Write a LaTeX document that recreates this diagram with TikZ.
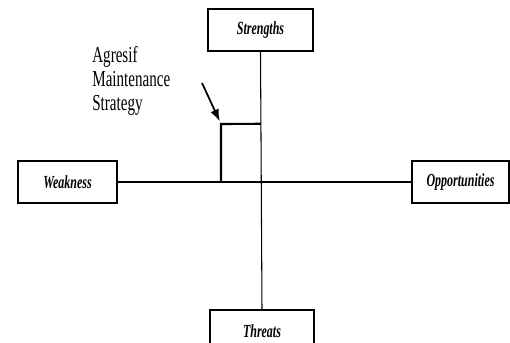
\documentclass[tikz,border=0pt]{standalone}
\usepackage{fontspec}
\setmainfont{Liberation Serif}
\newfontfamily\narrowserif[FakeStretch=0.66]{Liberation Serif}
\newfontfamily\boxserif[FakeStretch=0.65]{Liberation Serif}
\usetikzlibrary{calc}
\usetikzlibrary{arrows.meta}
\newlength{\unitpx}
\setlength{\unitpx}{0.02cm}
\tikzset{
	quad/.style={draw, line width=0.7pt, minimum width=100\unitpx, minimum height=42\unitpx,
		inner sep=0, font=\boxserif\fontsize{10.5}{12}\selectfont\bfseries\itshape},
}

\begin{document}
\begin{tikzpicture}[x=0.02cm, y=-0.02cm]
		\useasboundingbox (0,0) rectangle (510,342);
		\clip (0,0) rectangle (510,342);
		\node[quad, minimum width=105\unitpx] (S) at (260.5,30) {Strengths};
		\node[quad, minimum width=99\unitpx] (W) at (67.5,182) {Weakness};
		\node[quad, minimum width=97\unitpx] (O) at (460.5,182) {Opportunities};
		\node[quad, minimum width=104\unitpx] (T) at (262,331) {Threats};
		\draw[line width=0.6pt] (S.south) -- (T.north);
		\draw[line width=0.6pt] (W.east) -- (O.west);
		\coordinate (base) at (221,182);
		\coordinate (corner) at (221,124);
		\coordinate (top) at ($(S.south)!(corner)!(T.north)$);
		\draw[line width=1.2pt] (base) -- (corner) -- (top);
		\node[anchor=north west, inner sep=0, align=left,
			font=\narrowserif\fontsize{13}{13.6}\selectfont] (strat) at (92,46)
			{Agresif\\Maintenance\\Strategy};
		\coordinate (tail) at (202,83);
		\draw[-{Latex[length=6.8pt, width=5.1pt]}, line width=1pt, shorten >=1.7pt] (tail) -- (corner);
	\end{tikzpicture}
\end{document}
